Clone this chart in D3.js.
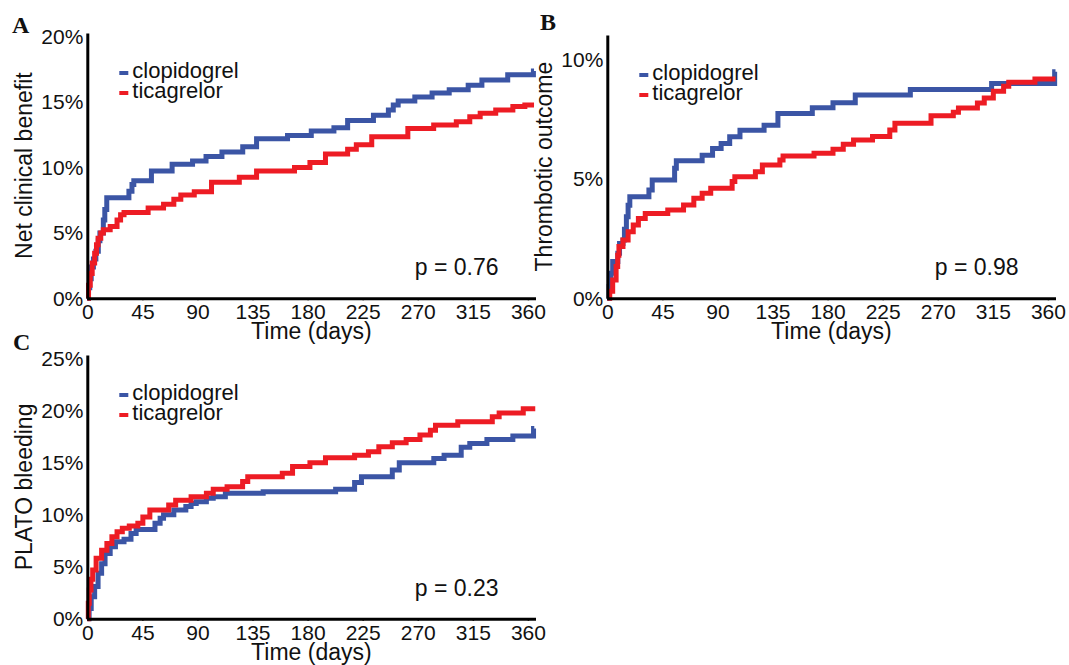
<!DOCTYPE html>
<html>
<head>
<meta charset="utf-8">
<script src="https://cdn.jsdelivr.net/npm/d3@7"></script>
<style>
  html, body { margin: 0; padding: 0; background: #fff; }
  svg { display: block; font-family: "Liberation Sans", Arial, sans-serif; }
</style>
</head>
<body>
<svg id="chart" width="1069" height="665"></svg>
<script>
// Kaplan-Meier style cumulative incidence, [day, percent] step points
const xTicks = [0, 45, 90, 135, 180, 225, 270, 315, 360];
const seriesNames = ['clopidogrel', 'ticagrelor'];

const aClopidogrel = [[0,0],[1,0.8],[2,1.5],[3.2,2.4],[5,3.0],[7,3.6],[9,4.4],[10.3,5.0],[13.1,6.0],[14.3,6.8],[15.9,7.7],[34,8.2],[36.5,8.7],[38,9.0],[52.4,9.75],[69.3,10.25],[86,10.5],[97,10.85],[110,11.2],[127,11.6],[138.3,12.2],[163.6,12.45],[183,12.8],[201.5,13.05],[212.7,13.6],[233.8,14.0],[246,14.4],[250,14.8],[254,15.1],[267.6,15.4],[281.7,15.7],[295.7,15.95],[311.2,16.3],[322.4,16.7],[343.5,17.1],[364.5,17.4],[365,17.4]];
const aTicagrelor = [[0,0],[1,1.0],[2.4,1.9],[4,2.7],[6,3.45],[7.5,4.1],[8.8,4.6],[11,5.0],[13.1,5.24],[18.7,5.5],[24.3,6.0],[27.2,6.4],[30,6.57],[49.7,6.9],[62.3,7.2],[70.7,7.57],[76.4,7.9],[87.4,8.16],[101.5,8.88],[124.2,9.26],[138.3,9.75],[169.3,10.0],[181.9,10.4],[194.6,11.05],[212.7,11.4],[219.8,11.74],[232.4,12.37],[261.9,13.0],[283,13.27],[301.5,13.5],[312.5,13.9],[321,14.16],[333.7,14.4],[347.7,14.67],[357.5,14.8],[365,14.8]];

const bClopidogrel = [[0,0],[1.5,0.5],[2.9,1.05],[4.4,1.54],[8.6,1.89],[10,2.3],[12.8,2.44],[14,2.9],[15.6,3.42],[17,3.9],[18.4,4.26],[34,4.54],[36.7,4.96],[55,5.45],[56.4,5.77],[77.5,6.0],[86,6.28],[93,6.49],[100,6.77],[108.4,7.05],[128.1,7.26],[139.4,7.75],[167.5,7.99],[184.4,8.2],[202.6,8.52],[247.6,8.76],[314,9.01],[365.5,9.5],[366.2,9.5]];
const bTicagrelor = [[0,0],[2,0.3],[4.4,0.77],[7.2,1.33],[8.5,1.8],[9.5,2.17],[12.8,2.44],[17,2.79],[21.2,3.07],[25.4,3.35],[31,3.56],[49.4,3.7],[62.3,3.91],[70.7,4.19],[77.5,4.4],[84.5,4.61],[102,4.9],[104.2,5.1],[121,5.31],[126.7,5.59],[141,5.8],[143.6,5.97],[168.9,6.08],[184.4,6.25],[192.8,6.46],[201.2,6.64],[216.7,6.78],[230.8,7.06],[235,7.34],[264.5,7.65],[282.7,7.8],[286.9,7.98],[302.4,8.19],[308,8.4],[315.4,8.68],[323.8,8.89],[328,9.06],[349.4,9.2],[366.2,9.2]];

const cClopidogrel = [[0,0],[1.5,1.0],[3.2,2.13],[6,3.1],[8.8,4.37],[11.7,5.3],[14.5,6.29],[18.7,6.93],[23,7.42],[30,7.64],[35.7,8.2],[39.9,8.6],[55.3,9.18],[59.5,9.66],[62.3,10.0],[70.7,10.46],[80.5,10.8],[84.8,11.1],[89,11.26],[97.3,11.6],[102.9,11.74],[112.8,12.07],[143.7,12.23],[202.9,12.45],[218.4,13.1],[224,13.67],[249.2,14.3],[254.9,15.0],[283.1,15.42],[291.5,15.74],[305.5,16.5],[312.5,16.87],[326.5,17.25],[347.7,17.58],[364.6,18.3],[365.2,18.3]];
const cTicagrelor = [[0,0],[0.8,1.5],[1.6,2.77],[3,3.8],[4.4,4.7],[7.2,5.83],[11.7,6.6],[16,7.25],[20.1,7.9],[24.3,8.36],[28.6,8.7],[34.3,8.92],[41.3,9.18],[45.4,9.8],[51.1,10.46],[66.5,10.94],[72.2,11.4],[84.8,11.74],[97.3,12.07],[102.9,12.45],[114.2,12.7],[126.9,13.2],[131.1,13.67],[159.3,14.0],[167.7,14.64],[181.9,15.0],[194.6,15.5],[218.4,15.74],[229.7,16.07],[238.2,16.55],[249.2,16.94],[260.5,17.25],[271.8,17.67],[280.3,18.14],[284.5,18.62],[302.7,18.95],[330.9,19.42],[336.5,19.8],[356.2,20.2],[366,20.2]];

const aYTicks = [0, 5, 10, 15, 20];
const bYTicks = [0, 5, 10];
const cYTicks = [0, 5, 10, 15, 20, 25];

const colors = { clopidogrel: '#3b55a5', ticagrelor: '#ed1c24' };

const svg = d3.select('#chart');

function makePanel(p) {
  const x = d3.scaleLinear().domain([0, 366.2]).range([p.left, p.right]);
  const y = d3.scaleLinear().domain([0, p.yMax]).range([p.bottom, p.top]);

  const g = svg.append('g');

  // curves (blue underneath, red on top)
  const line = d3.line()
    .curve(d3.curveStepAfter)
    .x(d => x(d[0]))
    .y(d => y(d[1]));

  g.selectAll('path.km')
    .data([p.clopidogrel, p.ticagrelor])
    .join('path')
      .attr('class', 'km')
      .attr('fill', 'none')
      .attr('stroke', (d, i) => colors[seriesNames[i]])
      .attr('stroke-width', 5)
      .attr('d', line);

  // axes
  g.append('g')
    .attr('transform', `translate(0,${p.bottom})`)
    .call(d3.axisBottom(x).tickValues(xTicks).tickSizeInner(2).tickSizeOuter(0).tickPadding(4))
    .call(a => a.select('.domain').attr('stroke-width', 3))
    .call(a => a.selectAll('.tick line').attr('stroke-width', 1.5))
    .call(a => a.selectAll('text').attr('font-size', 21).attr('font-family', null).attr('fill', '#111'));

  g.append('g')
    .attr('transform', `translate(${p.left},0)`)
    .call(d3.axisLeft(y).tickValues(p.yTicks).tickFormat(d => d + '%').tickSize(0).tickPadding(4))
    .call(a => a.select('.domain').attr('stroke-width', 3))
    .call(a => a.selectAll('text').attr('font-size', 21).attr('font-family', null).attr('fill', '#111'));

  // axis titles
  g.append('text')
    .attr('x', (p.left + p.right) / 2)
    .attr('y', p.bottom + 41)
    .attr('text-anchor', 'middle')
    .attr('font-size', 23)
    .attr('fill', '#111')
    .text('Time (days)');

  g.append('text')
    .attr('transform', `translate(${p.left - 55},${(p.top + p.bottom) / 2}) rotate(-90)`)
    .attr('text-anchor', 'middle')
    .attr('font-size', 23)
    .attr('fill', '#111')
    .text(p.yTitle);

  // legend
  const leg = g.append('g').attr('transform', `translate(${p.left + 32},${p.top + 45})`);
  seriesNames.forEach((name, i) => {
    leg.append('rect')
      .attr('x', 0).attr('y', i * 20 - 7)
      .attr('width', 9).attr('height', 4)
      .attr('fill', colors[name]);
    leg.append('text')
      .attr('x', 13).attr('y', i * 20)
      .attr('font-size', 22)
      .attr('fill', '#111')
      .text(name);
  });

  // p value
  g.append('text')
    .attr('x', p.right - 37)
    .attr('y', p.bottom - 23)
    .attr('text-anchor', 'end')
    .attr('font-size', 23)
    .attr('fill', '#111')
    .text(p.pValue);

  // panel letter
  g.append('text')
    .attr('x', p.letterX)
    .attr('y', p.letterY)
    .attr('font-family', '"Liberation Serif", "Times New Roman", serif')
    .attr('font-weight', 'bold')
    .attr('font-size', 24)
    .attr('fill', '#111')
    .text(p.letter);
}

makePanel({
  letter: 'A', letterX: 12, letterY: 33,
  left: 87.3, right: 535.5, top: 33, bottom: 298.3, yMax: 20.3,
  yTicks: aYTicks, yTitle: 'Net clinical benefit', pValue: 'p = 0.76',
  clopidogrel: aClopidogrel, ticagrelor: aTicagrelor
});
makePanel({
  letter: 'B', letterX: 540, letterY: 30,
  left: 607.3, right: 1055.5, top: 35, bottom: 298.3, yMax: 11.04,
  yTicks: bYTicks, yTitle: 'Thrombotic outcome', pValue: 'p = 0.98',
  clopidogrel: bClopidogrel, ticagrelor: bTicagrelor
});
makePanel({
  letter: 'C', letterX: 13, letterY: 350,
  left: 87.3, right: 535.5, top: 355, bottom: 618.8, yMax: 25.37,
  yTicks: cYTicks, yTitle: 'PLATO bleeding', pValue: 'p = 0.23',
  clopidogrel: cClopidogrel, ticagrelor: cTicagrelor
});
</script>
</body>
</html>
